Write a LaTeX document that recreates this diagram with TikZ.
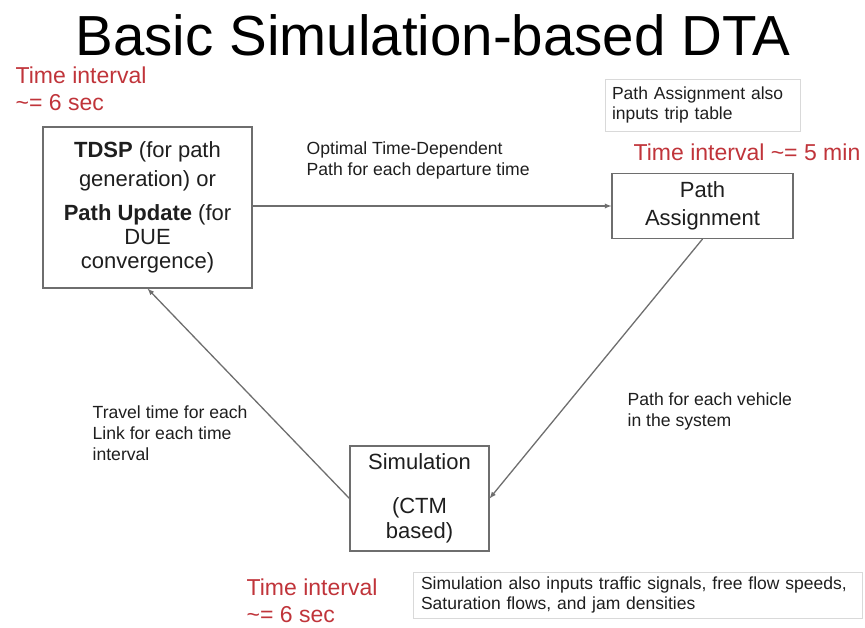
\documentclass[tikz,border=0pt]{standalone}
\usepackage{fontspec}
\setmainfont{Liberation Sans}
\usetikzlibrary{arrows}
\usetikzlibrary{positioning,shapes}

\definecolor{tinred}{RGB}{192,52,58}
\definecolor{edgegray}{RGB}{110,110,110}
\definecolor{inkgray}{RGB}{30,30,30}

\begin{document}
\begin{tikzpicture} [x=1pt,y=-1pt,>=latex,line width=1.3pt,
  block/.style={draw=edgegray,line width=1.1pt,align=center,inner sep=0pt,
                text=inkgray,font=\fontsize{22}{24}\selectfont},
  infobox/.style={draw=black!15,line width=0.9pt,align=left,inner sep=0pt,
                text=inkgray,font=\fontsize{17.5}{20}\selectfont},
  caption/.style={align=left,inner sep=0pt,text=inkgray,font=\fontsize{17.6}{21}\selectfont},
  interval/.style={align=left,inner sep=0pt,text=tinred,font=\fontsize{23}{27}\selectfont}]

  \useasboundingbox (0,0) rectangle (865,628);

  \node (title) at (433,35) [inner sep=0pt,font=\fontsize{56.5}{58}\selectfont] {Basic Simulation-based DTA};

  % the three steps of the loop
  \node[block] (tdsp) at (147.5,207.5) [minimum width=209pt,minimum height=161pt]
    {\textbf{TDSP} (for path\\[5pt] generation) or\\[10pt] \textbf{Path Update} (for\\ DUE\\ convergence)};
  \node[block] (assign) at (702.5,206) [minimum width=181pt,minimum height=65pt,
    font=\fontsize{22}{28}\selectfont] {Path\\ Assignment};
  \node[block] (sim) at (419.5,498.5) [minimum width=139pt,minimum height=105pt,
    font=\fontsize{22}{25}\selectfont] {Simulation\\[19pt] (CTM\\ based)};

  % extra inputs
  \node[infobox] (tripnote) at (702.5,105) [minimum width=195pt,minimum height=52pt,text width=181pt]
    {Path Assignment also\\ inputs trip table};
  \node[infobox] (signote) at (637.5,595) [minimum width=449pt,minimum height=46pt,text width=433pt]
    {Simulation also inputs traffic signals, free flow speeds,\\ Saturation flows, and jam densities};

  % time steps
  \node[interval] (dt1) [anchor=north west] at (15,66) {Time interval\\ \textasciitilde= 6 sec};
  \node[interval] (dt2) [anchor=west] at (633,152) {Time interval \textasciitilde= 5 min};
  \node[interval] (dt3) [anchor=north west] at (246,578) {Time interval\\ \textasciitilde= 6 sec};

  % what is passed along
  \node[caption] (pathlbl) [anchor=north west] at (306,141)
    {Optimal Time-Dependent\\ Path for each departure time};
  \node[caption] (vehlbl) [anchor=north west] at (627,392)
    {Path for each vehicle\\ in the system};
  \node[caption] (travlbl) [anchor=north west] at (92,405)
    {Travel time for each\\ Link for each time\\ interval};

  \path[every edge/.style={draw=edgegray,->}]
    (tdsp.east |- assign.west) edge (assign.west)
    (assign.south) edge (sim.east)
    (sim.west) edge (tdsp.south);

\end{tikzpicture}
\end{document}
